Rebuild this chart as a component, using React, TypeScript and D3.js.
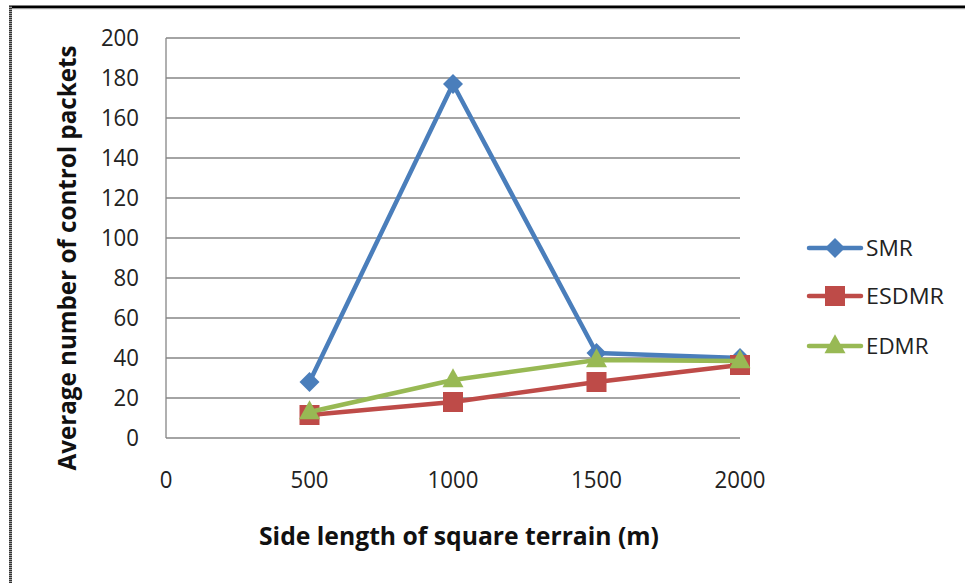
import React from "react";
import * as d3 from "d3";

// Terrain side lengths (m) and control-packet averages per protocol
const terrain = [500, 1000, 1500, 2000];
const smr = [28, 177, 42.5, 40];
const esdmr = [11.5, 18, 28, 36.5];
const edmr = [13, 29, 39, 38.5];

const yTicks = [0, 20, 40, 60, 80, 100, 120, 140, 160, 180, 200];
const xTicks = [0, 500, 1000, 1500, 2000];

const seriesNames = ["SMR", "ESDMR", "EDMR"];
const seriesColors = ["#4A7EBB", "#BE4B48", "#98B954"];
const seriesMarkers = ["diamond", "square", "triangle"];

const W = 965;
const H = 583;
const FONT = "'Open Sans', 'Noto Sans', sans-serif";

function Marker({ kind, x, y, color }: { kind: string; x: number; y: number; color: string }) {
  if (kind === "diamond") {
    const r = 10;
    return <path d={`M${x},${y - r}L${x + r},${y}L${x},${y + r}L${x - r},${y}Z`} fill={color} />;
  }
  if (kind === "square") {
    const s = 20;
    return <rect x={x - s / 2} y={y - s / 2} width={s} height={s} fill={color} />;
  }
  const s = 21;
  const h = 19;
  return (
    <path
      d={`M${x},${y - h * 0.62}L${x + s / 2},${y + h * 0.38}L${x - s / 2},${y + h * 0.38}Z`}
      fill={color}
    />
  );
}

export default function App() {
  const x = d3.scaleLinear().domain([0, 2000]).range([166, 740]);
  const y = d3.scaleLinear().domain([0, 200]).range([438, 38]);
  const line = d3
    .line<[number, number]>()
    .x((d) => x(d[0]))
    .y((d) => y(d[1]));

  const data = [smr, esdmr, edmr];
  const legendY = [248, 296, 346];

  return (
    <svg
      width={W}
      height={H}
      style={{ position: "absolute", left: 0, top: 0, background: "#fff" }}
      fontFamily={FONT}
    >
      <rect x={0} y={0} width={W} height={H} fill="#fff" />
      {/* frame */}
      <rect x={9} y={5.5} width={W - 9} height={2.6} fill="#000" />
      <rect x={12} y={8} width={W - 12} height={1.2} fill="#9a9a9a" />
      <rect x={9} y={6} width={3} height={H - 6} fill="#a0a0a0" />
      <line x1={10.5} y1={6} x2={10.5} y2={H} stroke="#333" strokeWidth={3} strokeDasharray="1 1" />

      {/* gridlines */}
      {yTicks.map((t) => (
        <line key={t} x1={166} x2={740} y1={y(t)} y2={y(t)} stroke="#868686" strokeWidth={1.3} />
      ))}
      <line x1={166} x2={166} y1={y(200)} y2={y(0)} stroke="#868686" strokeWidth={1.3} />

      {/* y tick labels */}
      {yTicks.map((t) => (
        <text key={t} x={139} y={y(t)} dy="0.36em" textAnchor="end" fontSize={23} fill="#222"
          textLength={String(t).length * 12.7} lengthAdjust="spacingAndGlyphs">
          {t}
        </text>
      ))}
      {/* x tick labels */}
      {xTicks.map((t) => (
        <text key={t} x={x(t)} y={480} dy="0.36em" textAnchor="middle" fontSize={23} fill="#222"
          textLength={String(t).length * 12.7} lengthAdjust="spacingAndGlyphs">
          {t}
        </text>
      ))}

      {/* axis titles */}
      <text
        transform={`translate(67,258) rotate(-90)`}
        textAnchor="middle"
        dy="0.36em"
        fontSize={25}
        fontWeight="bold"
        fill="#111"
        textLength={425}
        lengthAdjust="spacingAndGlyphs"
      >
        Average number of control packets
      </text>
      <text
        x={459}
        y={536}
        textAnchor="middle"
        dy="0.36em"
        fontSize={25}
        fontWeight="bold"
        fill="#111"
        textLength={400}
        lengthAdjust="spacingAndGlyphs"
      >
        Side length of square terrain (m)
      </text>

      {/* series */}
      {data.map((vals, i) => {
        const pts = terrain.map((t, j) => [t, vals[j]] as [number, number]);
        return (
          <g key={seriesNames[i]}>
            <path
              d={line(pts) || ""}
              fill="none"
              stroke={seriesColors[i]}
              strokeWidth={4.5}
              strokeLinejoin="round"
              strokeLinecap="round"
            />
            {pts.map((p, j) => (
              <Marker key={j} kind={seriesMarkers[i]} x={x(p[0])} y={y(p[1])} color={seriesColors[i]} />
            ))}
          </g>
        );
      })}

      {/* legend */}
      {seriesNames.map((name, i) => (
        <g key={name}>
          <line
            x1={809}
            x2={861}
            y1={legendY[i]}
            y2={legendY[i]}
            stroke={seriesColors[i]}
            strokeWidth={4.5}
            strokeLinecap="round"
          />
          <Marker kind={seriesMarkers[i]} x={835} y={legendY[i]} color={seriesColors[i]} />
          <text x={866} y={legendY[i]} dy="0.36em" fontSize={22} fill="#222"
            textLength={name.length * 15.6} lengthAdjust="spacingAndGlyphs">
            {name}
          </text>
        </g>
      ))}
    </svg>
  );
}
